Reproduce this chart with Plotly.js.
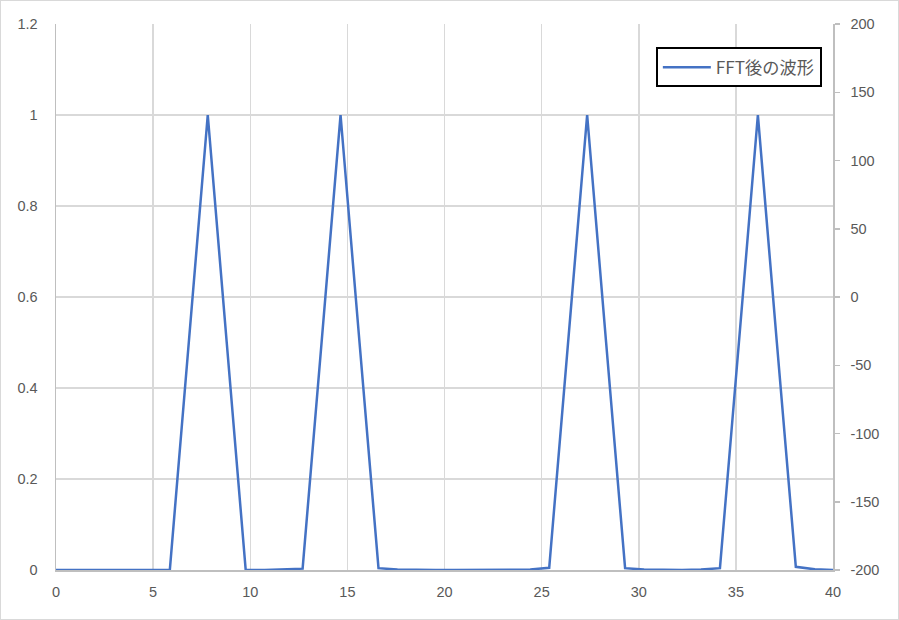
<!DOCTYPE html>
<html>
<head>
<meta charset="utf-8">
<script src="https://cdn.plot.ly/plotly-3.0.1.min.js"></script>
<style>
html,body{margin:0;padding:0;background:#fff;}
#chart{width:899px;height:620px;box-sizing:border-box;border:1px solid #d9d9d9;}
</style>
</head>
<body>
<div id="chart"></div>
<script>
// Frequency bin index and spacing (FFT resolution)
const binIndex = [0,1,2,3,4,5,6,7,8,9,10,11,12,13,14,15,16,17,18,19,20,21,22,23,24,25,26,27,28,29,30,31,32,33,34,35,36,37,38,39,40,41];
const binWidth = 0.9765625;
// Normalised amplitude
const amplitude = [0,0,0,0,0,0,0,0.5,1,0.5,0,0,0.001,0.003,0.5,1,0.5,0.004,0.001,0,0,0,0,0,0,0.001,0.005,0.5,1,0.5,0.004,0.001,0,0,0.001,0.004,0.5,1,0.5,0.007,0.0015,0];
const seriesName = "FFT後の波形";
const xTicks = [0,5,10,15,20,25,30,35,40];
const yLeftTicks = [0,0.2,0.4,0.6,0.8,1,1.2];
const yRightTicks = [-200,-150,-100,-50,0,50,100,150,200];

const freq = binIndex.map(k => k * binWidth);

const font = {family: "Liberation Sans, 'Noto Sans CJK JP', sans-serif", size: 14.5, color: "#595959"};

const trace = {
  x: freq, y: amplitude, type: "scatter", mode: "lines", name: seriesName,
  line: {color: "#4472C4", width: 2.5}
};
const dummy = {
  x: [null], y: [null], yaxis: "y2", type: "scatter", mode: "lines",
  showlegend: false, hoverinfo: "skip"
};

const layout = {
  width: 897, height: 618,
  margin: {l: 55, r: 65, t: 23, b: 49},
  paper_bgcolor: "#fff", plot_bgcolor: "#fff",
  font: font,
  showlegend: true,
  legend: {
    x: 0.772, y: 0.957, xanchor: "left", yanchor: "top",
    bordercolor: "#000", borderwidth: 2, bgcolor: "#fff",
    itemwidth: 48,
    font: {family: "'Noto Sans CJK JP', sans-serif", size: 17.2, color: "#595959"}
  },
  xaxis: {
    range: [0, 40], tickvals: xTicks, ticktext: xTicks.map(String),
    showgrid: true, gridcolor: "#d9d9d9", gridwidth: 1.5,
    showline: true, linecolor: "#bfbfbf", linewidth: 1.5,
    zeroline: false, ticks: "", ticklabelstandoff: 8, tickfont: font
  },
  yaxis: {
    range: [0, 1.2], tickvals: yLeftTicks, ticktext: ["0","0.2","0.4","0.6","0.8","1","1.2"],
    showgrid: true, gridcolor: "#d9d9d9", gridwidth: 1.5,
    showline: true, linecolor: "#bfbfbf", linewidth: 1.5,
    zeroline: false, ticks: "", ticklabelstandoff: 14, tickfont: font
  },
  yaxis2: {
    overlaying: "y", side: "right", range: [-200, 200], tickvals: yRightTicks,
    ticktext: yRightTicks.map(v => v < 0 ? "-" + Math.abs(v) : String(v)),
    showgrid: false, zeroline: false,
    showline: true, linecolor: "#bfbfbf", linewidth: 1.5,
    ticks: "outside", ticklen: 5, tickcolor: "#bfbfbf", tickwidth: 1.5,
    ticklabelstandoff: 8, tickfont: font
  }
};

Plotly.newPlot("chart", [trace, dummy], layout, {displayModeBar: false, staticPlot: true});
</script>
</body>
</html>
